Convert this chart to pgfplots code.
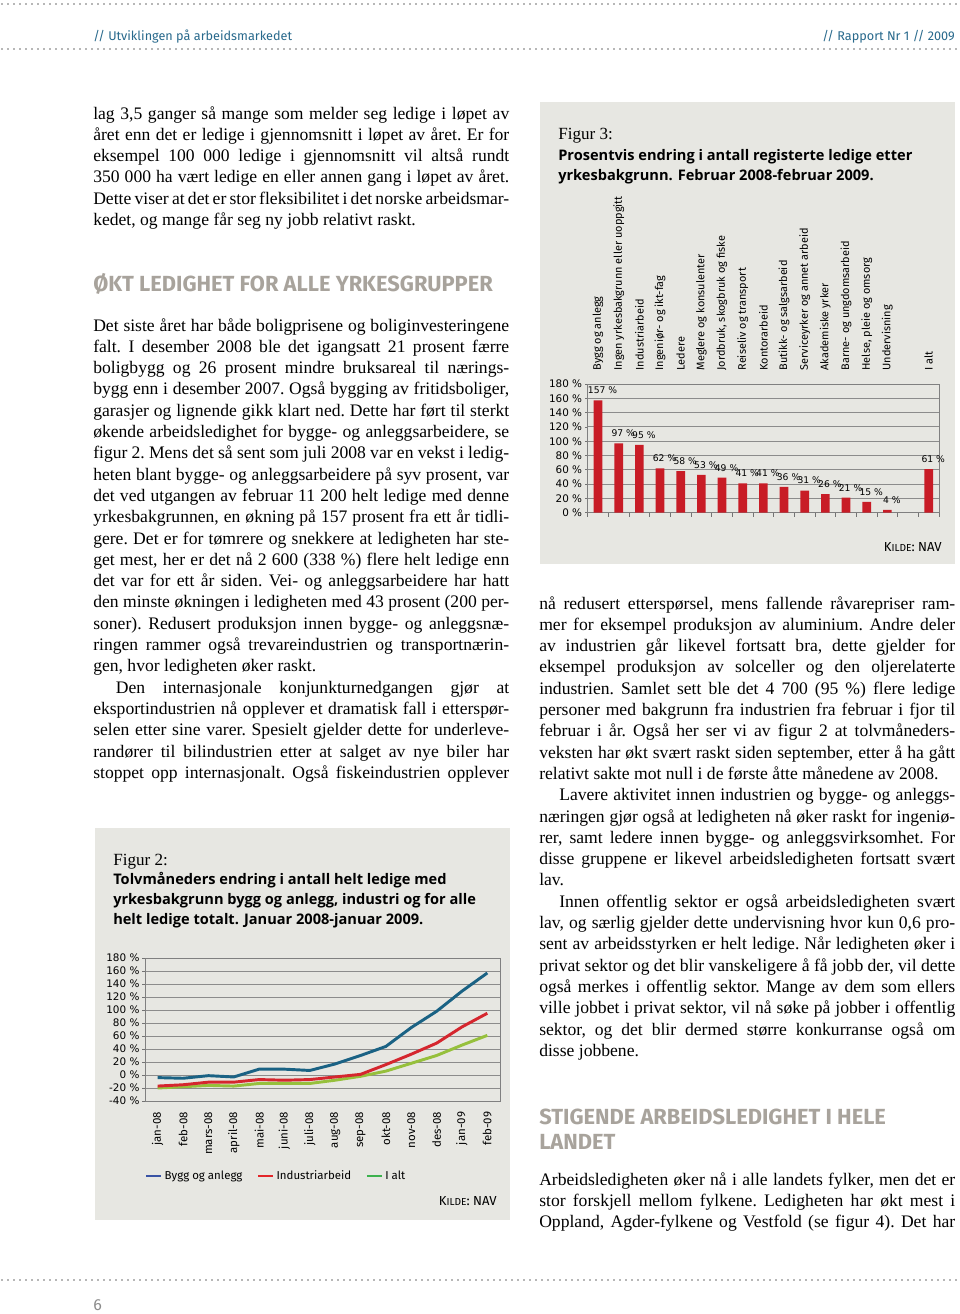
\documentclass[border=0pt]{standalone}
\usepackage{pgfplots}
\pgfplotsset{compat=1.18}
\usepackage{fontspec}
\setmainfont{Liberation Serif}
\newfontfamily\fira{Fira Sans}
\newfontfamily\opens{Open Sans}
\newfontfamily\dejavu{DejaVu Sans}
\definecolor{boxbg}{RGB}{231,231,226}
\definecolor{hdr}{RGB}{40,105,140}
\definecolor{headgray}{RGB}{168,163,156}
\definecolor{dotgray}{RGB}{110,110,110}
\definecolor{barred}{RGB}{200,28,38}
\definecolor{lblue}{RGB}{26,98,132}
\definecolor{lred}{RGB}{213,38,46}
\definecolor{lgreen}{RGB}{150,192,60}
\definecolor{legblue}{RGB}{57,83,164}
\definecolor{legred}{RGB}{227,38,41}
\definecolor{leggreen}{RGB}{61,178,78}
\newcommand\jl[1]{\hbox to 312pt{#1}}
\newcommand\nl[1]{\hbox{#1}}
\newcommand\para[1]{\vtop{\fontsize{13.2}{15.975}\selectfont\frenchspacing\spaceskip=0.25em plus 0.6em minus 0.14em\baselineskip=15.975pt\lineskiplimit=-20pt #1}}
\newcommand\kilde{{\fira\fontsize{9.8}{11}\selectfont K\fontsize{7.6}{9}\selectfont ILDE\fontsize{9.8}{11}\selectfont: NAV}}
\newcommand\ttl{\opens\bfseries\fontsize{10.95}{12}\selectfont}
\newcommand\hd{\fira\bfseries\fontsize{16.4}{17}\selectfont}
\begin{document}
\begin{tikzpicture}
\path[use as bounding box] (0,0) rectangle (720pt,-985.5pt);
\begin{scope}[x=0.75pt,y=-0.75pt]
\fill[white] (0,0) rectangle (960,1314);
% header / footer dotted rules
\draw[dotgray, line width=1.2pt, dash pattern=on 0pt off 4.5pt, line cap=round] (2,4) -- (960,4);
\draw[dotgray, line width=1.2pt, dash pattern=on 0pt off 4.5pt, line cap=round] (2,49) -- (960,49);
\draw[dotgray, line width=1.2pt, dash pattern=on 0pt off 4.5pt, line cap=round] (2,1280) -- (960,1280);
\node[anchor=base west, inner sep=0, text=hdr, font=\fira\fontsize{9.5}{11}\selectfont] at (93,40) {// Utviklingen på arbeidsmarkedet};
\node[anchor=base east, inner sep=0, text=hdr, font=\fira\fontsize{9.5}{11}\selectfont] at (955,40) {// Rapport Nr 1 // 2009};
\node[anchor=base west, inner sep=0, text=black!45, font=\fira\fontsize{12}{12}\selectfont] at (93,1310) {6};
% figure boxes
\fill[boxbg] (540,102) rectangle (955,564);
\fill[boxbg] (95,828) rectangle (510,1220);
\coordinate (f3) at (587.7,512.7);
\coordinate (f2) at (145,1101);
% left column
\node[anchor=base west, inner sep=0] at (93,119) {\para{%
\jl{lag 3,5 ganger så mange som melder seg ledige i løpet av}
\jl{året enn det er ledige i gjennomsnitt i løpet av året. Er for}
\jl{eksempel 100 000 ledige i gjennomsnitt vil altså rundt}
\jl{350 000 ha vært ledige en eller annen gang i løpet av året.}
\jl{Dette viser at det er stor fleksibilitet i det norske arbeidsmar-}
\nl{kedet, og mange får seg ny jobb relativt raskt.}}};
\node[anchor=base west, inner sep=0, text=headgray, font=\hd] at (93,291) {ØKT LEDIGHET FOR ALLE YRKESGRUPPER};
\node[anchor=base west, inner sep=0] at (93,331) {\para{%
\jl{Det siste året har både boligprisene og boliginvesteringene}
\jl{falt. I desember 2008 ble det igangsatt 21 prosent færre}
\jl{boligbygg og 26 prosent mindre bruksareal til nærings-}
\jl{bygg enn i desember 2007. Også bygging av fritidsboliger,}
\jl{garasjer og lignende gikk klart ned. Dette har ført til sterkt}
\jl{økende arbeidsledighet for bygge- og anleggsarbeidere, se}
\jl{figur 2. Mens det så sent som juli 2008 var en vekst i ledig-}
\jl{heten blant bygge- og anleggsarbeidere på syv prosent, var}
\jl{det ved utgangen av februar 11 200 helt ledige med denne}
\jl{yrkesbakgrunnen, en økning på 157 prosent fra ett år tidli-}
\jl{gere. Det er for tømrere og snekkere at ledigheten har ste-}
\jl{get mest, her er det nå 2 600 (338 \%) flere helt ledige enn}
\jl{det var for ett år siden. Vei- og anleggsarbeidere har hatt}
\jl{den minste økningen i ledigheten med 43 prosent (200 per-}
\jl{soner). Redusert produksjon innen bygge- og anleggsnæ-}
\jl{ringen rammer også trevareindustrien og transportnærin-}
\nl{gen, hvor ledigheten øker raskt.}
\jl{\hskip 17pt Den internasjonale konjunkturnedgangen gjør at}
\jl{eksportindustrien nå opplever et dramatisk fall i etterspør-}
\jl{selen etter sine varer. Spesielt gjelder dette for underleve-}
\jl{randører til bilindustrien etter at salget av nye biler har}
\jl{stoppet opp internasjonalt. Også fiskeindustrien opplever}}};
% right column
\node[anchor=base west, inner sep=0] at (539,609) {\para{%
\jl{nå redusert etterspørsel, mens fallende råvarepriser ram-}
\jl{mer for eksempel produksjon av aluminium. Andre deler}
\jl{av industrien går likevel fortsatt bra, dette gjelder for}
\jl{eksempel produksjon av solceller og den oljerelaterte}
\jl{industrien. Samlet sett ble det 4 700 (95 \%) flere ledige}
\jl{personer med bakgrunn fra industrien fra februar i fjor til}
\jl{februar i år. Også her ser vi av figur 2 at tolvmåneders-}
\jl{veksten har økt svært raskt siden september, etter å ha gått}
\nl{relativt sakte mot null i de første åtte månedene av 2008.}
\jl{\hskip 15pt Lavere aktivitet innen industrien og bygge- og anleggs-}
\jl{næringen gjør også at ledigheten nå øker raskt for ingeniø-}
\jl{rer, samt ledere innen bygge- og anleggsvirksomhet. For}
\jl{disse gruppene er likevel arbeidsledigheten fortsatt svært}
\nl{lav.}
\jl{\hskip 15pt Innen offentlig sektor er også arbeidsledigheten svært}
\jl{lav, og særlig gjelder dette undervisning hvor kun 0,6 pro-}
\jl{sent av arbeidsstyrken er helt ledige. Når ledigheten øker i}
\jl{privat sektor og det blir vanskeligere å få jobb der, vil dette}
\jl{også merkes i offentlig sektor. Mange av dem som ellers}
\jl{ville jobbet i privat sektor, vil nå søke på jobber i offentlig}
\jl{sektor, og det blir dermed større konkurranse også om}
\nl{disse jobbene.}}};
\node[anchor=base west, inner sep=0, text=headgray, font=\hd] at (539,1124) {STIGENDE ARBEIDSLEDIGHET I HELE};
\node[anchor=base west, inner sep=0, text=headgray, font=\hd] at (539,1149) {LANDET};
\node[anchor=base west, inner sep=0] at (539,1185) {\para{%
\jl{Arbeidsledigheten øker nå i alle landets fylker, men det er}
\jl{stor forskjell mellom fylkene. Ledigheten har økt mest i}
\jl{Oppland, Agder-fylkene og Vestfold (se figur 4). Det har}}};
% figure 3 titles
\node[anchor=base west, inner sep=0, font=\fontsize{12.8}{13}\selectfont] at (558,139) {Figur 3:};
\node[anchor=base west, inner sep=0, font=\ttl] at (558,160) {Prosentvis endring i antall registerte ledige etter};
\node[anchor=base west, inner sep=0, font=\ttl] at (558,180) {yrkesbakgrunn. Februar 2008-februar 2009.};
\node[anchor=base east, inner sep=0] at (942,551) {\kilde};
% figure 2 titles
\node[anchor=base west, inner sep=0, font=\fontsize{12.8}{13}\selectfont] at (113,865) {Figur 2:};
\node[anchor=base west, inner sep=0, font=\ttl] at (113,884) {Tolvmåneders endring i antall helt ledige med};
\node[anchor=base west, inner sep=0, font=\ttl] at (113,904) {yrkesbakgrunn bygg og anlegg, industri og for alle};
\node[anchor=base west, inner sep=0, font=\ttl] at (113,924) {helt ledige totalt. Januar 2008-januar 2009.};
\node[anchor=base east, inner sep=0] at (497,1205) {\kilde};
\end{scope}
% ---------- Figure 3 ----------
\begin{axis}[
  at={(f3)}, anchor=south west, scale only axis,
  width=263.5pt, height=96.5pt,
  xmin=-0.5, xmax=16.5, ymin=0, ymax=180,
  ybar, bar width=6.5pt, clip=false,
  axis line style={draw=black!50, line width=0.7pt},
  ymajorgrids, major grid style={draw=black!45, line width=0.7pt},
  ytick={0,20,...,180},
  yticklabels={0 \%,20 \%,40 \%,60 \%,80 \%,100 \%,120 \%,140 \%,160 \%,180 \%},
  yticklabel style={font=\dejavu\fontsize{7.8}{9}\selectfont, inner xsep=2pt},
  ytick pos=left,
  xtick={0,...,14,16},
  xticklabels={Bygg og anlegg, Ingen yrkesbakgrunn eller uoppgitt, Industriarbeid, Ingeniør- og ikt-fag, Ledere, Meglere og konsulenter, {Jordbruk, skogbruk og fiske}, Reiseliv og transport, Kontorarbeid, Butikk- og salgsarbeid, Serviceyrker og annet arbeid, Akademiske yrker, Barne- og ungdomsarbeid, {Helse, pleie og omsorg}, Undervisning, I alt},
  xtick pos=left, xticklabel pos=right,
  xticklabel style={font=\fira\fontsize{8.2}{9}\selectfont, rotate=90, anchor=west, inner xsep=8pt, inner ysep=0pt},
  every major x tick/.append style={draw=none},
  minor xtick={-0.5,0.5,...,16.5},
  tick align=outside, major tick length=2pt, minor tick length=3pt,
  tick style={draw=black!55, line width=0.6pt},
  nodes near coords={\pgfmathprintnumber[assume math mode=true]{\pgfplotspointmeta} \%},
  every node near coord/.append style={font=\dejavu\fontsize{6.9}{8}\selectfont, anchor=base, xshift=3.4pt, yshift=5pt, text=black},
]
\addplot[fill=barred, draw=none] coordinates {(0,157) (1,97) (2,95) (3,62) (4,58) (5,53) (6,49) (7,41) (8,41) (9,36) (10,31) (11,26) (12,21) (13,15) (14,4) (16,61)};
\end{axis}
% ---------- Figure 2 ----------
\begin{axis}[
  at={(f2)}, anchor=south west, scale only axis,
  width=266.25pt, height=107.25pt,
  xmin=-0.5, xmax=13.5, ymin=-40, ymax=180,
  axis line style={draw=black!50, line width=0.7pt},
  ymajorgrids, major grid style={draw=black!45, line width=0.7pt},
  ytick={-40,-20,...,180},
  yticklabels={-40 \%,-20 \%,0 \%,20 \%,40 \%,60 \%,80 \%,100 \%,120 \%,140 \%,160 \%,180 \%},
  yticklabel style={font=\dejavu\fontsize{7.8}{9}\selectfont, inner xsep=2pt},
  ytick pos=left, xtick pos=left,
  xtick={0,...,13},
  xticklabels={jan-08,feb-08,mars-08,april-08,mai-08,juni-08,juli-08,aug-08,sep-08,okt-08,nov-08,des-08,jan-09,feb-09},
  xticklabel style={font=\fira\fontsize{8.6}{9}\selectfont, rotate=90, anchor=east, inner xsep=6pt, inner ysep=0pt},
  every major x tick/.append style={draw=none},
  tick align=outside, major tick length=2pt,
  tick style={draw=black!55, line width=0.6pt},
  legend columns=3,
  legend style={at={(0,-0.524)}, anchor=west, draw=none, fill=none, inner sep=0pt,
    font=\fira\fontsize{8.6}{9}\selectfont,
    /tikz/every even column/.append style={column sep=9pt}},
  legend image code/.code={\draw[#1] (0pt,0pt) -- (11pt,0pt);},
  legend cell align=left,
]
\addlegendimage{legblue, line width=1.6pt}\addlegendentry{Bygg og anlegg}
\addlegendimage{legred, line width=1.6pt}\addlegendentry{Industriarbeid}
\addlegendimage{leggreen, line width=1.6pt}\addlegendentry{I alt}
\addplot[lgreen, line width=2.2pt, forget plot] coordinates {(0,-20) (1,-18) (2,-16) (3,-17) (4,-13) (5,-13) (6,-13) (7,-8) (8,-2) (9,6) (10,18) (11,30) (12,46) (13,61)};
\addplot[lred, line width=2.2pt, forget plot] coordinates {(0,-17) (1,-15) (2,-11) (3,-11) (4,-7) (5,-8) (6,-7) (7,-3) (8,1) (9,16) (10,32) (11,49) (12,74) (13,95)};
\addplot[lblue, line width=2.2pt, forget plot] coordinates {(0,-4) (1,-5) (2,-1) (3,-3) (4,9) (5,9) (6,7) (7,17) (8,30) (9,44) (10,73) (11,98) (12,129) (13,157)};
\end{axis}
\end{tikzpicture}
\end{document}
